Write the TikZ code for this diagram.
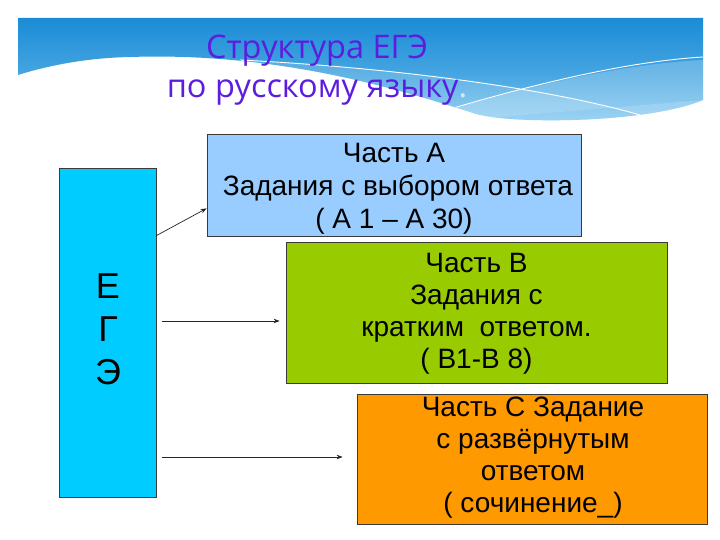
\documentclass[tikz,border=0pt]{standalone}
\usepackage{fontspec}
\setmainfont{Liberation Sans}
\newfontfamily\titlefont{Open Sans}
\usetikzlibrary{arrows.meta,calc}
\definecolor{cA}{HTML}{99CCFF}
\definecolor{cB}{HTML}{99CC00}
\definecolor{cC}{HTML}{FF9900}
\definecolor{cE}{HTML}{00CCFF}
\definecolor{titlec}{RGB}{92,30,222}
\definecolor{periodc}{HTML}{D4E8F6}
\definecolor{bantop}{HTML}{1A8CD6}
\definecolor{banbot}{HTML}{7FC6F0}
\definecolor{edgec}{HTML}{3A3A3A}
\begin{document}
\begin{tikzpicture}[x=1pt,y=-1pt,
  boxstyle/.style={draw=edgec, line width=0.8pt, rectangle, inner sep=0pt},
  boxtext/.style={anchor=north, align=center, inner sep=0pt, text=black},
  arr/.style={draw=black!85, line width=0.7pt, -{Stealth[length=6pt,width=4.5pt]}}]
\useasboundingbox (0,0) rectangle (720,540);
\fill[white] (0,0) rectangle (720,540);
% banner
\begin{scope}
\clip (18,18) -- (703,18) -- (703,100)
   .. controls (670,114) and (600,122) .. (530,120)
   .. controls (500,119) and (480,116) .. (470,112)
   .. controls (400,90) and (280,52) .. (130,57)
   .. controls (80,58) and (40,68) .. (18,75) -- cycle;
\shade[top color=bantop, bottom color=banbot, middle color=bantop!60!banbot] (18,18) rectangle (703,122);
\fill[white, opacity=0.22] (440,113) .. controls (520,88) and (620,64) .. (703,60) -- (703,122) -- (440,122) -- cycle;
\fill[white, opacity=0.15] (240,60) .. controls (400,68) and (560,90) .. (650,118) -- (703,122) -- (703,100) -- (440,122) -- cycle;
\draw[white, line width=0.9pt] (240,60) .. controls (400,68) and (560,90) .. (650,118);
\draw[white, line width=0.9pt] (440,112) .. controls (520,88) and (620,62) .. (703,57);
\end{scope}
% title
\node[anchor=north, align=center, inner sep=0pt, text=titlec,
  font=\titlefont\fontsize{32.5}{39}\selectfont] (title) at (317,35)
  {Структура ЕГЭ\\по русскому языку{\color{periodc}.}};
% boxes
\node[boxstyle, fill=cE, minimum width=97pt, minimum height=329pt] (ege) at (107.5,332.5) {};
\node[boxstyle, fill=cA, minimum width=374pt, minimum height=102pt] (boxA) at (394,185) {};
\node[boxstyle, fill=cB, minimum width=381pt, minimum height=141pt] (boxB) at (476.5,312.5) {};
\node[boxstyle, fill=cC, minimum width=350pt, minimum height=130pt] (boxC) at (532,459) {};
% texts
\node[boxtext, font=\fontsize{36}{43}\selectfont] (egeT) at (108,274) {Е\\Г\\Э};
\node[boxtext, font=\fontsize{28}{33}\selectfont] (textA) at (394,143)
  {Часть А\\{}\ Задания с выбором ответа\\( А 1 – А 30)};
\node[boxtext, font=\fontsize{28}{32}\selectfont] (textB) at (476.5,253)
  {Часть В\\Задания с\\кратким\ \ ответом.\\( В1-В 8)};
\node[boxtext, font=\fontsize{28}{32}\selectfont] (textC) at (533,397)
  {Часть С Задание\\с развёрнутым\\ответом\\( сочинение\_)};
% arrows
\coordinate (y2) at (0,321);
\coordinate (y3) at (0,457);
\draw[arr] ([yshift=-68pt]ege.north east) -- ([yshift=28pt]boxA.south west);
\draw[arr] ($(ege.east |- y2)+(6,0)$) -- ($(boxB.west |- y2)+(-6,0)$);
\draw[arr] ($(ege.east |- y3)+(6,0)$) -- ($(boxC.west |- y3)+(-14,0)$);
\end{tikzpicture}
\end{document}
